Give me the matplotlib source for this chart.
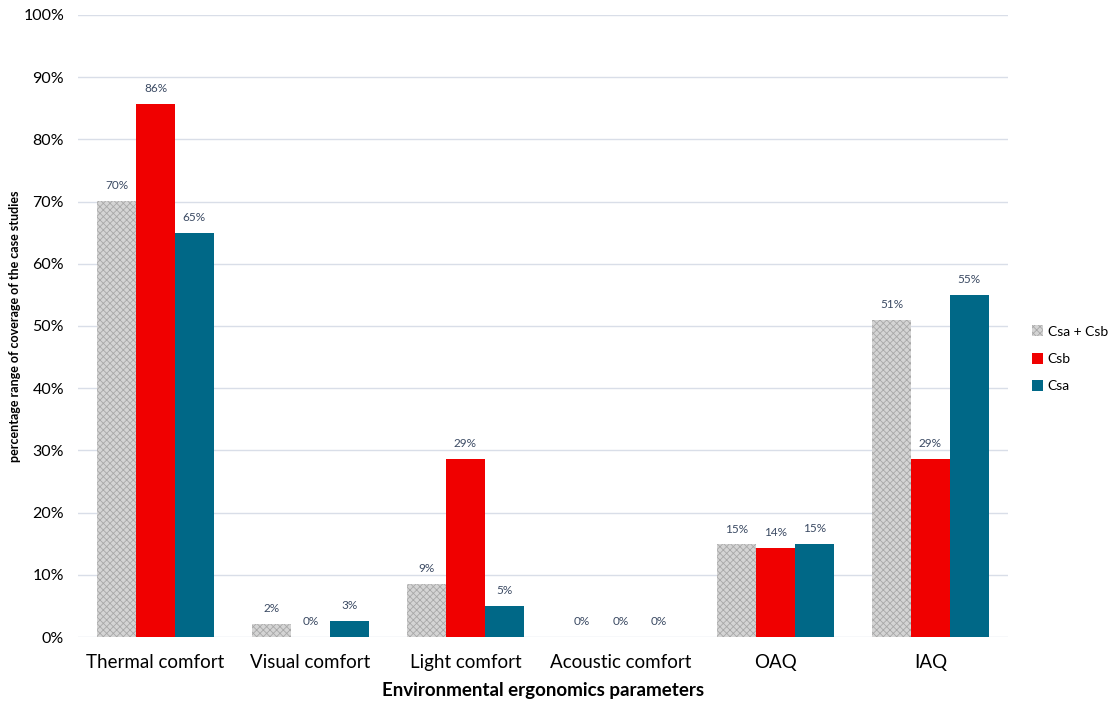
import numpy as np
import matplotlib
matplotlib.use("Agg")
import matplotlib.pyplot as plt

categories = ["Thermal comfort", "Visual comfort", "Light comfort",
              "Acoustic comfort", "OAQ", "IAQ"]
csa_csb = [70.1, 2.1, 8.6, 0.0, 14.9, 51.0]
csb = [85.7, 0.0, 28.6, 0.0, 14.3, 28.6]
csa = [65.0, 2.6, 5.0, 0.0, 15.0, 55.0]

series = [
    ("Csa + Csb", csa_csb),
    ("Csb", csb),
    ("Csa", csa),
]

plt.rcParams['font.family'] = ['Lato', 'DejaVu Sans']
plt.rcParams['hatch.linewidth'] = 0.6

fig = plt.figure(figsize=(11.08, 7.06), dpi=100)
ax = fig.add_axes([0.0704, 0.0977, 0.8393, 0.8811])

x = np.arange(len(categories))
w = 0.25
lab_col = "#3b4a63"

styles = [
    dict(color="#d4d4d4", hatch="xxxxx", edgecolor="#a8a8a8", linewidth=0),
    dict(color="#f00000", edgecolor="none", linewidth=0),
    dict(color="#006887", edgecolor="none", linewidth=0),
]

for i, (name, vals) in enumerate(series):
    pos = x + (i - 1) * w
    bars = ax.bar(pos, vals, w, label=name, zorder=3, **styles[i])
    for b, v in zip(bars, vals):
        ax.annotate(f"{v:.0f}%", (b.get_x() + b.get_width() / 2, v),
                    xytext=(0, 7), textcoords="offset points",
                    ha="center", va="bottom", fontsize=8.5, color=lab_col)

ax.set_xlim(-0.5, len(categories) - 0.5)
ax.set_ylim(0, 100)
ax.set_yticks(np.arange(0, 101, 10))
ax.set_yticklabels([f"{t}%" for t in range(0, 101, 10)], fontsize=11.5)
ax.set_xticks(x)
ax.set_xticklabels(categories, fontsize=13.5)
ax.tick_params(axis="both", length=0)
ax.tick_params(axis="x", pad=12)
ax.tick_params(axis="y", pad=10)
ax.grid(axis="y", color="#d9dee8", linewidth=1, zorder=0)
for s in ax.spines.values():
    s.set_visible(False)

ax.set_xlabel("Environmental ergonomics parameters", fontsize=13.5,
              fontweight="bold", labelpad=8)
ax.set_ylabel("percentage range of coverage of the case studies", fontsize=9,
              fontweight="bold")
ax.yaxis.set_label_coords(-0.061, 0.5)

ax.legend(loc="center left", bbox_to_anchor=(1.012, 0.447), frameon=False,
          fontsize=10, handlelength=0.8, handleheight=0.8,
          handletextpad=0.35, labelspacing=1.1)

fig.savefig("out.png", dpi=100)
